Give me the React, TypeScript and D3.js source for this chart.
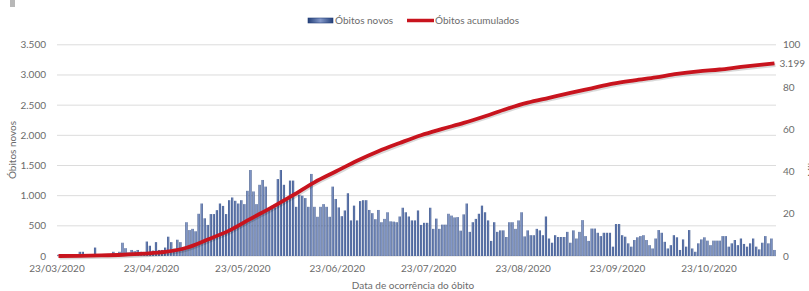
import React from "react";
import * as d3 from "d3";

// novos óbitos por dia, a partir de 23/03/2020
const startDate = new Date(2020, 2, 23);
const dailyDeaths = [
  20, 30, 0, 10, 0, 20, 10, 70, 70, 20, 30, 20, 140, 20, 10, 20, 30, 20, 70, 40,
  70, 220, 130, 60, 100, 80, 100, 70, 60, 240, 170, 90,
  230, 100, 100, 140, 320, 230, 120, 270, 230, 150, 560, 430, 450, 410, 700, 870, 625, 515,
  695, 695, 760, 870, 830, 695, 925, 970, 915, 870,
  925, 860, 1080, 1425, 1070, 860, 1180, 1260, 1150, 775,
  830, 805, 1275, 1425, 1180, 925, 1250, 1250, 815, 1015,
  1000, 960, 815, 1360, 815, 650, 815, 860, 815, 650,
  1150, 945, 805, 660, 755, 1040, 590, 835, 590, 910,
  925, 925, 763, 710, 610, 763, 560, 615, 725, 575,
  570, 560, 655, 800, 725, 655, 590, 590, 755, 515,
  550, 550, 800, 450, 620, 450, 520, 520, 700, 670,
  640, 645, 420, 690, 870, 400, 560, 615, 700, 835,
  725, 590, 250, 560, 400, 425, 425, 315, 560, 560,
  450, 590, 725, 325, 425, 345, 345, 450, 425, 345,
  655, 290, 220, 345, 315, 315, 315, 400, 220, 425,
  290, 400, 595, 330, 250,
  455, 455, 385, 330, 385, 385, 385, 155, 530, 530,
  345, 320, 210, 155, 265, 310, 330, 345, 265, 180,
  125, 290, 430, 385, 235, 125, 180, 345, 310, 100,
  275, 155, 430, 125, 70, 210, 275, 310, 255, 180,
  255, 255, 255, 330, 330, 155, 210, 265, 180, 290,
  200, 155, 210, 290, 155, 110, 220, 330, 210, 290, 100,
];

// óbitos acumulados (mil), lidos semanalmente
const cumDays = [0, 7, 14, 21, 28, 35, 42, 49, 56, 63, 70, 77, 84, 91, 98, 105, 112, 119, 126, 133, 140, 147, 154, 161, 168, 175, 182, 189, 196, 203, 210, 217, 224, 231, 235];
const cumValues = [0, 0.1, 0.3, 0.6, 1.1, 1.9, 3.9, 7.8, 12.0, 17.6, 23.0, 28.8, 34.9, 40.0, 45.1, 49.6, 53.5, 57.2, 60.2, 63.0, 66.2, 69.6, 72.6, 74.9, 77.2, 79.4, 81.6, 83.2, 84.6, 86.2, 87.4, 88.3, 89.5, 90.6, 91.2];

const leftTicks = [0, 500, 1000, 1500, 2000, 2500, 3000, 3500];
const rightTicks = [0, 20, 40, 60, 80, 100];
const xTickLabels = ["23/03/2020", "23/04/2020", "23/05/2020", "23/06/2020", "23/07/2020", "23/08/2020", "23/09/2020", "23/10/2020"];
const lastLabel = "3.199";

const W = 809;
const H = 291;
const FONT = "Lato, 'Open Sans', sans-serif";
const GRAY = "#6b6b6b";

export default function App() {
  const parse = d3.timeParse("%d/%m/%Y");
  const fmtLeft = (v: number) => d3.format(",")(v).replace(",", ".");

  const x = d3.scaleTime()
    .domain([startDate, d3.timeDay.offset(startDate, 236)])
    .range([57, 776]);
  const yL = d3.scaleLinear().domain([0, 3500]).range([256, 44.8]);
  const yR = d3.scaleLinear().domain([0, 100]).range([256, 44.8]);

  const dayX = (i: number) => x(d3.timeDay.offset(startDate, i)) + 1.5;

  const line = d3.line<number>()
    .x((d, i) => dayX(cumDays[i]))
    .y((d) => yR(d))
    .curve(d3.curveMonotoneX);

  const barW = 2.2;
  const lastX = dayX(cumDays[cumDays.length - 1]);

  return (
    <svg width={W} height={H} style={{ position: "absolute", left: 0, top: 0, background: "#fff" }} fontFamily={FONT}>
      <defs>
        <linearGradient id="barGrad" x1="0" x2="1" y1="0" y2="0">
          <stop offset="0" stopColor="#233f78" />
          <stop offset="0.5" stopColor="#8398c9" />
          <stop offset="1" stopColor="#233f78" />
        </linearGradient>
      </defs>
      <rect x={10} y={0} width={5} height={7} fill="#b8b8b8" />

      {/* grade */}
      <g>
        {leftTicks.map((t) => (
          <line key={t} x1={57} x2={776} y1={yL(t)} y2={yL(t)} stroke="#dcdcdc" strokeWidth={1} />
        ))}
      </g>

      {/* eixo esquerdo */}
      <g fontSize={10} fill={GRAY} textAnchor="end">
        {leftTicks.map((t) => (
          <text key={t} x={46} y={yL(t) + 3.5}>{fmtLeft(t)}</text>
        ))}
      </g>
      <text transform="translate(16,150) rotate(-90)" textAnchor="middle" fontSize={10} fill={GRAY}>Óbitos novos</text>

      {/* eixo direito */}
      <g fontSize={10} fill={GRAY} textAnchor="start">
        {rightTicks.map((t) => (
          <text key={t} x={783} y={yR(t) + 3.5}>{t}</text>
        ))}
      </g>
      <text transform="translate(815,170) rotate(-90)" textAnchor="middle" fontSize={10} fill={GRAY}>Mil</text>

      {/* barras */}
      <g>
        {dailyDeaths.map((v, i) => (
          <rect key={i} x={dayX(i) - barW / 2} y={yL(v)} width={barW} height={Math.max(0, yL(0) - yL(v))} fill="url(#barGrad)" />
        ))}
      </g>

      {/* linha acumulada */}
      <path d={line(cumValues) || ""} fill="none" stroke="#000" strokeOpacity={0.15} strokeWidth={4} transform="translate(1,1.5)" />
      <path d={line(cumValues) || ""} fill="none" stroke="#c8141e" strokeWidth={3.8} strokeLinejoin="round" />
      <text x={lastX + 5} y={yR(cumValues[cumValues.length - 1]) + 3.5} fontSize={10} fill={GRAY}>{lastLabel}</text>

      {/* eixo x */}
      <g fontSize={10} fill={GRAY} textAnchor="middle">
        {xTickLabels.map((s) => (
          <text key={s} x={x(parse(s) as Date)} y={272}>{s}</text>
        ))}
      </g>
      <text x={413} y={289} textAnchor="middle" fontSize={10} fill={GRAY}>Data de ocorrência do óbito</text>

      {/* legenda */}
      <g fontSize={10} fill={GRAY}>
        <rect x={308} y={18} width={25} height={5} fill="url(#barGrad)" stroke="#233f78" strokeWidth={0.6} />
        <text x={335} y={24}>Óbitos novos</text>
        <line x1={407} x2={434} y1={20.5} y2={20.5} stroke="#c8141e" strokeWidth={3.5} />
        <text x={435} y={24}>Óbitos acumulados</text>
      </g>
    </svg>
  );
}
